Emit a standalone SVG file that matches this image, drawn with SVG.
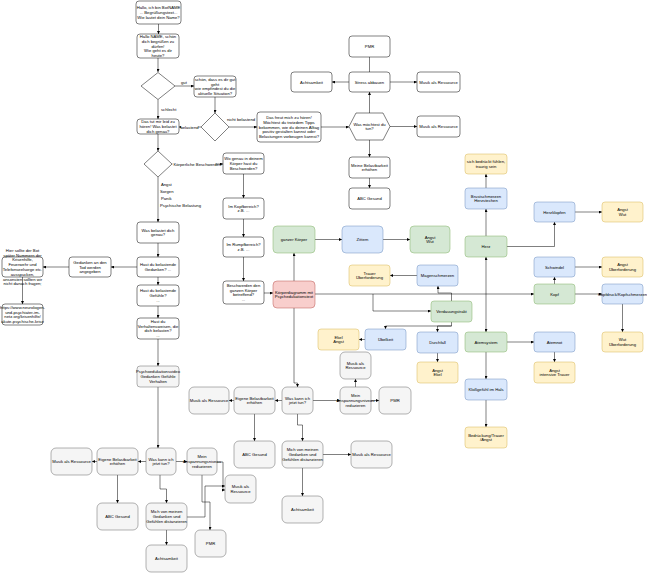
<svg xmlns="http://www.w3.org/2000/svg" width="647" height="573" viewBox="0 0 647 573">
<style>
.t{font-family:"Liberation Sans",Arial,sans-serif;font-size:4.2px;text-anchor:middle;fill:#000}
.s{text-anchor:start}
.w{fill:#fff;stroke:#000;stroke-width:0.5}
.g{fill:#f5f5f5;stroke:#666;stroke-width:0.5}
.gr{fill:#d5e8d4;stroke:#82b366;stroke-width:0.5}
.b{fill:#dae8fc;stroke:#6c8ebf;stroke-width:0.5}
.y{fill:#fff2cc;stroke:#d6b656;stroke-width:0.5}
.r{fill:#f8cecc;stroke:#b85450;stroke-width:0.5}
.e{fill:none;stroke:#000;stroke-width:0.5;marker-end:url(#a)}
.n{fill:none;stroke:#000;stroke-width:0.5}
</style>
<defs>
<marker id="a" viewBox="0 0 6 6" refX="6" refY="3" markerWidth="3" markerHeight="3" markerUnits="userSpaceOnUse" orient="auto"><path d="M0,0 L6,3 L0,6 z" fill="#000"/></marker>
</defs>
<rect width="647" height="573" fill="#fff"/>
<g id="connectors">
<path class="e" d="M158.5 24 V34"/>
<path class="e" d="M158 58 V72"/>
<path class="e" d="M175 86 H194"/>
<path class="e" d="M158 99.5 V119"/>
<path class="e" d="M215 97 V113"/>
<path class="e" d="M201 127 H179"/>
<path class="e" d="M229 127 H257"/>
<path class="e" d="M321 127 H349"/>
<path class="e" d="M390 126.5 H417"/>
<path class="e" d="M369.5 113 V92"/>
<path class="n" d="M369.5 72 V57"/>
<path class="e" d="M349 82 H332"/>
<path class="e" d="M390 82 H417"/>
<path class="e" d="M369.5 140 V157"/>
<path class="e" d="M369.5 178 V188"/>
<path class="e" d="M158 134 V151"/>
<path class="e" d="M172 164 H223"/>
<path class="e" d="M158 177 V222"/>
<path class="e" d="M243.5 174 V198"/>
<path class="e" d="M243.5 219 V237"/>
<path class="e" d="M243.5 257 V281"/>
<path class="e" d="M264 293 H273"/>
<path class="e" d="M158 243 V257"/>
<path class="e" d="M137 267 H111"/>
<path class="e" d="M69 267 H43"/>
<path class="e" d="M22.5 277 V304"/>
<path class="e" d="M158 277 V285"/>
<path class="e" d="M158 306 V318"/>
<path class="e" d="M158 339 V366"/>
<path class="e" d="M158 387 V448"/>
<path class="e" d="M146 461.5 H138"/>
<path class="e" d="M97 461.5 H92"/>
<path class="e" d="M117.5 475 V503"/>
<path class="e" d="M176 461.5 H187"/>
<path class="e" d="M160 475 V489 H166.5 V503"/>
<path class="e" d="M166.5 530 V545"/>
<path class="e" d="M202 475 V502 H210 V530"/>
<path class="e" d="M217 462 H223 V490 H225"/>
<path class="e" d="M187 517 H205 V486 H225"/>
<path class="e" d="M294 308 V383 H297.5 V387"/>
<path class="e" d="M282 400.5 H275"/>
<path class="e" d="M234 400.5 H229"/>
<path class="e" d="M254.5 414 V441"/>
<path class="e" d="M313 400.5 H340"/>
<path class="e" d="M355.5 387 V379"/>
<path class="e" d="M371 400.5 H379"/>
<path class="e" d="M297.5 414 V425 H302.5 V441"/>
<path class="e" d="M323 454.5 H351"/>
<path class="e" d="M302.5 468 V496"/>
<path class="e" d="M294 281 V253"/>
<path class="e" d="M315 239.5 H342"/>
<path class="e" d="M383 239.5 H410"/>
<path class="e" d="M315 294 H534"/>
<path class="e" d="M373 294 V311 H431"/>
<path class="e" d="M451.5 301 V293 H438 V286"/>
<path class="e" d="M417 275.5 H390"/>
<path class="e" d="M451.5 322 V326 H437.5 V332"/>
<path class="e" d="M451.5 326 H385.5 V329"/>
<path class="e" d="M365 339.5 H359"/>
<path class="e" d="M437.5 353 V362"/>
<path class="e" d="M486 294 V257"/>
<path class="e" d="M486 294 V332"/>
<path class="e" d="M486 236 V209"/>
<path class="e" d="M486 188 V174"/>
<path class="e" d="M507 246.5 H554.5 V222"/>
<path class="e" d="M575 212 H602"/>
<path class="e" d="M554.5 284 V277"/>
<path class="e" d="M575 267 H602"/>
<path class="e" d="M575 294 H602"/>
<path class="e" d="M622.5 304 V332"/>
<path class="e" d="M507 342 H534"/>
<path class="e" d="M554.5 352 V362"/>
<path class="e" d="M486 352 V379"/>
<path class="e" d="M486 400 V427"/>
</g>
<g id="labels">
<text class="t s" x="181" y="83.5">gut</text>
<text class="t s" x="161" y="110.5">schlecht</text>
<rect x="181" y="124.5" width="17" height="5" fill="#fff"/>
<text class="t" x="189.5" y="128.5">belastend</text>
<text class="t" x="241" y="120.5">nicht belastend</text>
<rect x="172.5" y="161.5" width="43" height="5" fill="#fff"/>
<text class="t s" x="173.5" y="165.5">Körperliche Beschwerden</text>
<rect x="159" y="181" width="42" height="27" fill="#fff"/>
<text class="t s" x="161" y="185.5">Angst</text>
<text class="t s" x="160" y="192.5">Sorgen</text>
<text class="t s" x="161" y="199.5">Panik</text>
<text class="t s" x="160" y="206.5">Psychische Belastung</text>
</g>
<g id="n1"><rect class="w" x="136" y="1" width="45" height="23" rx="3"/><text class="t"><tspan x="158.5" y="9.2">Hallo, ich bin BotNAME</tspan><tspan x="158.5" y="14">... Begrüßungstext...</tspan><tspan x="158.5" y="18.8">Wie lautet dein Name?</tspan></text></g>
<g id="n2"><rect class="w" x="137" y="34" width="42" height="24" rx="3"/><text class="t"><tspan x="158" y="37.9">Hallo NAME, schön</tspan><tspan x="158" y="42.7">dich begrüßen zu</tspan><tspan x="158" y="47.5">dürfen!</tspan><tspan x="158" y="52.3">Wie geht es dir</tspan><tspan x="158" y="57.1">heute?</tspan></text></g>
<g id="d1"><polygon class="w" points="158,72.5 175,86 158,99.5 141,86"/></g>
<g id="n3"><rect class="w" x="194" y="76" width="42" height="21" rx="3"/><text class="t"><tspan x="215" y="80.8">schön, dass es dir gut</tspan><tspan x="215" y="85.6">geht</tspan><tspan x="215" y="90.4">wie empfindest du die</tspan><tspan x="215" y="95.2">aktuelle Situation?</tspan></text></g>
<g id="d2"><polygon class="w" points="215,113 229,127 215,141 201,127"/></g>
<g id="n4"><rect class="w" x="137" y="119" width="42" height="15" rx="3"/><text class="t"><tspan x="158" y="123.2">Das tut mir leid zu</tspan><tspan x="158" y="128">hören! Was belastet</tspan><tspan x="158" y="132.8">dich genau?</tspan></text></g>
<g id="n5"><rect class="w" x="257" y="112" width="64" height="30" rx="3"/><text class="t"><tspan x="289" y="118.9">Das freut mich zu hören!</tspan><tspan x="289" y="123.7">Möchtest du trotzdem Tipps</tspan><tspan x="289" y="128.5">bekommen, wie du deinen Alltag</tspan><tspan x="289" y="133.3">positiv gestalten kannst oder</tspan><tspan x="289" y="138.1">Belastungen vorbeugen kannst?</tspan></text></g>
<g id="hex"><polygon class="w" points="356,113 383,113 390,126.5 383,140 356,140 349,126.5"/><text class="t"><tspan x="369.5" y="125.6">Was möchtest du</tspan><tspan x="369.5" y="130.4">tun?</tspan></text></g>
<g id="musik1"><rect class="w" x="417" y="116" width="43" height="21" rx="3"/><text class="t" x="438.5" y="128">Musik als Ressource</text></g>
<g id="stress"><rect class="w" x="349" y="72" width="41" height="20" rx="3"/><text class="t" x="369.5" y="83.5">Stress abbauen</text></g>
<g id="pmr1"><rect class="w" x="349" y="36" width="41" height="21" rx="3"/><text class="t" x="369.5" y="48">PMR</text></g>
<g id="acht1"><rect class="w" x="291" y="72" width="41" height="20" rx="3"/><text class="t" x="311.5" y="83.5">Achtsamkeit</text></g>
<g id="musik2"><rect class="w" x="417" y="72" width="43" height="20" rx="3"/><text class="t" x="438.5" y="83.5">Musik als Ressource</text></g>
<g id="meine"><rect class="w" x="349" y="157" width="41" height="21" rx="3"/><text class="t"><tspan x="369.5" y="166.6">Meine Belastbarkeit</tspan><tspan x="369.5" y="171.4">erhöhen</tspan></text></g>
<g id="abc1"><rect class="w" x="349" y="188" width="41" height="21" rx="3"/><text class="t" x="369.5" y="200">ABC Gesund</text></g>
<g id="d3"><polygon class="w" points="158,151 172,164 158,177 144,164"/></g>
<g id="wogenau"><rect class="w" x="223" y="153" width="41" height="21" rx="3"/><text class="t"><tspan x="243.5" y="160.2">Wo genau in deinem</tspan><tspan x="243.5" y="165">Körper hast du</tspan><tspan x="243.5" y="169.8">Beschwerden?</tspan></text></g>
<g id="kopfber"><rect class="w" x="223" y="198" width="41" height="21" rx="3"/><text class="t"><tspan x="243.5" y="207.6">Im Kopfbereich?</tspan><tspan x="243.5" y="212.4">z.B. ...</tspan></text></g>
<g id="rumpf"><rect class="w" x="223" y="237" width="41" height="20" rx="3"/><text class="t"><tspan x="243.5" y="246.1">Im Rumpfbereich?</tspan><tspan x="243.5" y="250.9">z.B. ...</tspan></text></g>
<g id="ganzbes"><rect class="w" x="223" y="281" width="41" height="23" rx="3"/><text class="t"><tspan x="243.5" y="286.8">Beschwerden den</tspan><tspan x="243.5" y="291.6">ganzen Körper</tspan><tspan x="243.5" y="296.4">betreffend?</tspan><tspan x="243.5" y="301.2">...</tspan></text></g>
<g id="koerperdiagramm"><rect class="r" x="273" y="281" width="42" height="27" rx="4"/><text class="t"><tspan x="294" y="293.6">Körperdiagramm mit</tspan><tspan x="294" y="298.4">Psychedukationstext</tspan></text></g>
<g id="wasbelastet"><rect class="w" x="137" y="222" width="42" height="21" rx="3"/><text class="t"><tspan x="158" y="231.6">Was belastet dich</tspan><tspan x="158" y="236.4">genau?</tspan></text></g>
<g id="gedanken"><rect class="w" x="137" y="257" width="42" height="20" rx="3"/><text class="t"><tspan x="158" y="266.1">Hast du belastende</tspan><tspan x="158" y="270.9">Gedanken? ...</tspan></text></g>
<g id="tod"><rect class="w" x="69" y="257" width="42" height="20" rx="3"/><text class="t"><tspan x="90" y="263.7">Gedanken an den</tspan><tspan x="90" y="268.5">Tod werden</tspan><tspan x="90" y="273.3">angegeben</tspan></text></g>
<g id="hier"><rect class="w" x="2" y="257" width="41" height="20" rx="3"/><text class="t"><tspan x="22.5" y="251.7">Hier sollte der Bot</tspan><tspan x="22.5" y="256.5">später Nummern der</tspan><tspan x="22.5" y="261.3">Krisenhilfe,</tspan><tspan x="22.5" y="266.1">Feuerwehr und</tspan><tspan x="22.5" y="270.9">Telefonseelsorge etc.</tspan><tspan x="22.5" y="275.7">ausspucken,</tspan><tspan x="22.5" y="280.5">ansonsten sollten wir</tspan><tspan x="22.5" y="285.3">nicht danach fragen;</tspan></text></g>
<g id="https"><rect class="w" x="2" y="304" width="41" height="21" rx="3"/><text class="t"><tspan x="22.5" y="308.8">https://www.neurologen-</tspan><tspan x="22.5" y="313.6">und-psychiater-im-</tspan><tspan x="22.5" y="318.4">netz.org/krisenhilfe/</tspan><tspan x="22.5" y="323.2">akute-psychische-krise</tspan></text></g>
<g id="gefuehle"><rect class="w" x="137" y="285" width="42" height="21" rx="3"/><text class="t"><tspan x="158" y="292.2">Hast du belastende</tspan><tspan x="158" y="297">Gefühle?</tspan><tspan x="158" y="301.8">...</tspan></text></g>
<g id="verhalten"><rect class="w" x="137" y="318" width="42" height="21" rx="3"/><text class="t"><tspan x="158" y="322.8">Hast du</tspan><tspan x="158" y="327.6">Verhaltensweisen, die</tspan><tspan x="158" y="332.4">dich belasten?</tspan><tspan x="158" y="337.2">...</tspan></text></g>
<g id="psychoedu"><rect class="g" x="137" y="366" width="42" height="21" rx="3"/><text class="t"><tspan x="158" y="373.2">Psychoedukationsvideo</tspan><tspan x="158" y="378">Gedanken Gefühle</tspan><tspan x="158" y="382.8">Verhalten</tspan></text></g>
<g id="musikL"><rect class="g" x="51" y="448" width="41" height="27" rx="5"/><text class="t" x="71.5" y="463">Musik als Ressource</text></g>
<g id="eigeneL"><rect class="g" x="97" y="448" width="41" height="27" rx="5"/><text class="t"><tspan x="117.5" y="460.6">Eigene Belastbarkeit</tspan><tspan x="117.5" y="465.4">erhöhen</tspan></text></g>
<g id="wasL"><rect class="g" x="146" y="448" width="30" height="27" rx="5"/><text class="t"><tspan x="161" y="460.6">Was kann ich</tspan><tspan x="161" y="465.4">jetzt tun?</tspan></text></g>
<g id="meinL"><rect class="g" x="187" y="448" width="30" height="27" rx="5"/><text class="t"><tspan x="202" y="458.2">Mein</tspan><tspan x="202" y="463">Anspannungsniveau</tspan><tspan x="202" y="467.8">reduzieren</tspan></text></g>
<g id="abcL"><rect class="g" x="97" y="503" width="41" height="27" rx="5"/><text class="t" x="117.5" y="518">ABC Gesund</text></g>
<g id="michL"><rect class="g" x="146" y="503" width="41" height="27" rx="5"/><text class="t"><tspan x="166.5" y="513.2">Mich von meinen</tspan><tspan x="166.5" y="518">Gedanken und</tspan><tspan x="166.5" y="522.8">Gefühlen distanzieren</tspan></text></g>
<g id="achtL"><rect class="g" x="146" y="545" width="41" height="27" rx="5"/><text class="t" x="166.5" y="560">Achtsamkeit</text></g>
<g id="pmrL"><rect class="g" x="195" y="530" width="31" height="27" rx="5"/><text class="t" x="210.5" y="545">PMR</text></g>
<g id="musikL2"><rect class="g" x="225" y="475" width="31" height="28" rx="5"/><text class="t"><tspan x="240.5" y="488.1">Musik als</tspan><tspan x="240.5" y="492.9">Ressource</tspan></text></g>
<g id="musikM"><rect class="g" x="189" y="387" width="40" height="27" rx="5"/><text class="t" x="209" y="402">Musik als Ressource</text></g>
<g id="eigeneM"><rect class="g" x="234" y="387" width="41" height="27" rx="5"/><text class="t"><tspan x="254.5" y="399.6">Eigene Belastbarkeit</tspan><tspan x="254.5" y="404.4">erhöhen</tspan></text></g>
<g id="wasM"><rect class="g" x="282" y="387" width="31" height="27" rx="5"/><text class="t"><tspan x="297.5" y="399.6">Was kann ich</tspan><tspan x="297.5" y="404.4">jetzt tun?</tspan></text></g>
<g id="meinM"><rect class="g" x="340" y="387" width="31" height="27" rx="5"/><text class="t"><tspan x="355.5" y="397.2">Mein</tspan><tspan x="355.5" y="402">Anspannungsniveau</tspan><tspan x="355.5" y="406.8">reduzieren</tspan></text></g>
<g id="musikMup"><rect class="g" x="340" y="352" width="31" height="27" rx="5"/><text class="t"><tspan x="355.5" y="364.6">Musik als</tspan><tspan x="355.5" y="369.4">Ressource</tspan></text></g>
<g id="pmrM"><rect class="g" x="379" y="387" width="32" height="27" rx="5"/><text class="t" x="395" y="402">PMR</text></g>
<g id="abcM"><rect class="g" x="234" y="441" width="41" height="27" rx="5"/><text class="t" x="254.5" y="456">ABC Gesund</text></g>
<g id="michM"><rect class="g" x="282" y="441" width="41" height="27" rx="5"/><text class="t"><tspan x="302.5" y="451.2">Mich von meinen</tspan><tspan x="302.5" y="456">Gedanken und</tspan><tspan x="302.5" y="460.8">Gefühlen distanzieren</tspan></text></g>
<g id="musikMr"><rect class="g" x="351" y="441" width="41" height="27" rx="5"/><text class="t" x="371.5" y="456">Musik als Ressource</text></g>
<g id="achtM"><rect class="g" x="282" y="496" width="41" height="27" rx="5"/><text class="t" x="302.5" y="511">Achtsamkeit</text></g>
<g id="ganz"><rect class="gr" x="273" y="226" width="42" height="27" rx="4"/><text class="t" x="294" y="241">ganzer Körper</text></g>
<g id="zittern"><rect class="b" x="342" y="226" width="41" height="27" rx="4"/><text class="t" x="362.5" y="241">Zittern</text></g>
<g id="angstwut1"><rect class="gr" x="410" y="226" width="40" height="27" rx="4"/><text class="t"><tspan x="430" y="238.6">Angst</tspan><tspan x="430" y="243.4">Wut</tspan></text></g>
<g id="trauer"><rect class="y" x="349" y="265" width="41" height="21" rx="3"/><text class="t"><tspan x="369.5" y="274.6">Trauer</tspan><tspan x="369.5" y="279.4">Überforderung</tspan></text></g>
<g id="magen"><rect class="b" x="417" y="265" width="41" height="21" rx="3"/><text class="t" x="437.5" y="277">Magenschmerzen</text></g>
<g id="verdau"><rect class="gr" x="431" y="301" width="41" height="21" rx="3"/><text class="t" x="451.5" y="313">Verdauungstrakt</text></g>
<g id="uebelkeit"><rect class="b" x="365" y="329" width="41" height="21" rx="3"/><text class="t" x="385.5" y="341">Übelkeit</text></g>
<g id="ekelangst"><rect class="y" x="318" y="329" width="41" height="21" rx="3"/><text class="t"><tspan x="338.5" y="338.6">Ekel</tspan><tspan x="338.5" y="343.4">Angst</tspan></text></g>
<g id="durchfall"><rect class="b" x="417" y="332" width="41" height="21" rx="3"/><text class="t" x="437.5" y="344">Durchfall</text></g>
<g id="angstekel"><rect class="y" x="417" y="362" width="41" height="21" rx="3"/><text class="t"><tspan x="437.5" y="371.6">Angst</tspan><tspan x="437.5" y="376.4">Ekel</tspan></text></g>
<g id="herz"><rect class="gr" x="465" y="236" width="42" height="21" rx="3"/><text class="t" x="486" y="248">Herz</text></g>
<g id="brust"><rect class="b" x="465" y="188" width="42" height="21" rx="3"/><text class="t"><tspan x="486" y="197.6">Brustschmerzen</tspan><tspan x="486" y="202.4">Herzstechen</tspan></text></g>
<g id="bedrueckt"><rect class="y" x="465" y="154" width="42" height="20" rx="3"/><text class="t"><tspan x="486" y="163.1">sich bedrückt fühlen,</tspan><tspan x="486" y="167.9">traurig sein</tspan></text></g>
<g id="herzklopfen"><rect class="b" x="534" y="202" width="41" height="20" rx="3"/><text class="t" x="554.5" y="213.5">Herzklopfen</text></g>
<g id="angstwut2"><rect class="y" x="602" y="202" width="41" height="20" rx="3"/><text class="t"><tspan x="622.5" y="211.1">Angst</tspan><tspan x="622.5" y="215.9">Wut</tspan></text></g>
<g id="schwindel"><rect class="b" x="534" y="257" width="41" height="20" rx="3"/><text class="t" x="554.5" y="268.5">Schwindel</text></g>
<g id="angstueber"><rect class="y" x="602" y="257" width="41" height="20" rx="3"/><text class="t"><tspan x="622.5" y="266.1">Angst</tspan><tspan x="622.5" y="270.9">Überforderung</tspan></text></g>
<g id="kopf"><rect class="gr" x="534" y="284" width="41" height="20" rx="3"/><text class="t" x="554.5" y="295.5">Kopf</text></g>
<g id="kopfdruck"><rect class="b" x="602" y="284" width="41" height="20" rx="3"/><text class="t" x="622.5" y="295.5">Kopfdruck/Kopfschmerzen</text></g>
<g id="wutueber"><rect class="y" x="602" y="332" width="41" height="20" rx="3"/><text class="t"><tspan x="622.5" y="341.1">Wut</tspan><tspan x="622.5" y="345.9">Überforderung</tspan></text></g>
<g id="atem"><rect class="gr" x="465" y="332" width="42" height="20" rx="3"/><text class="t" x="486" y="343.5">Atemsystem</text></g>
<g id="atemnot"><rect class="b" x="534" y="332" width="41" height="20" rx="3"/><text class="t" x="554.5" y="343.5">Atemnot</text></g>
<g id="angsttrauer"><rect class="y" x="534" y="362" width="41" height="21" rx="3"/><text class="t"><tspan x="554.5" y="371.6">Angst</tspan><tspan x="554.5" y="376.4">intensive Trauer</tspan></text></g>
<g id="kloss"><rect class="b" x="465" y="379" width="42" height="21" rx="3"/><text class="t" x="486" y="391">Kloßgefühl im Hals</text></g>
<g id="bedrueckung"><rect class="y" x="465" y="427" width="42" height="21" rx="3"/><text class="t"><tspan x="486" y="436.6">Bedrückung/Trauer</tspan><tspan x="486" y="441.4">/Angst</tspan></text></g>
</svg>
